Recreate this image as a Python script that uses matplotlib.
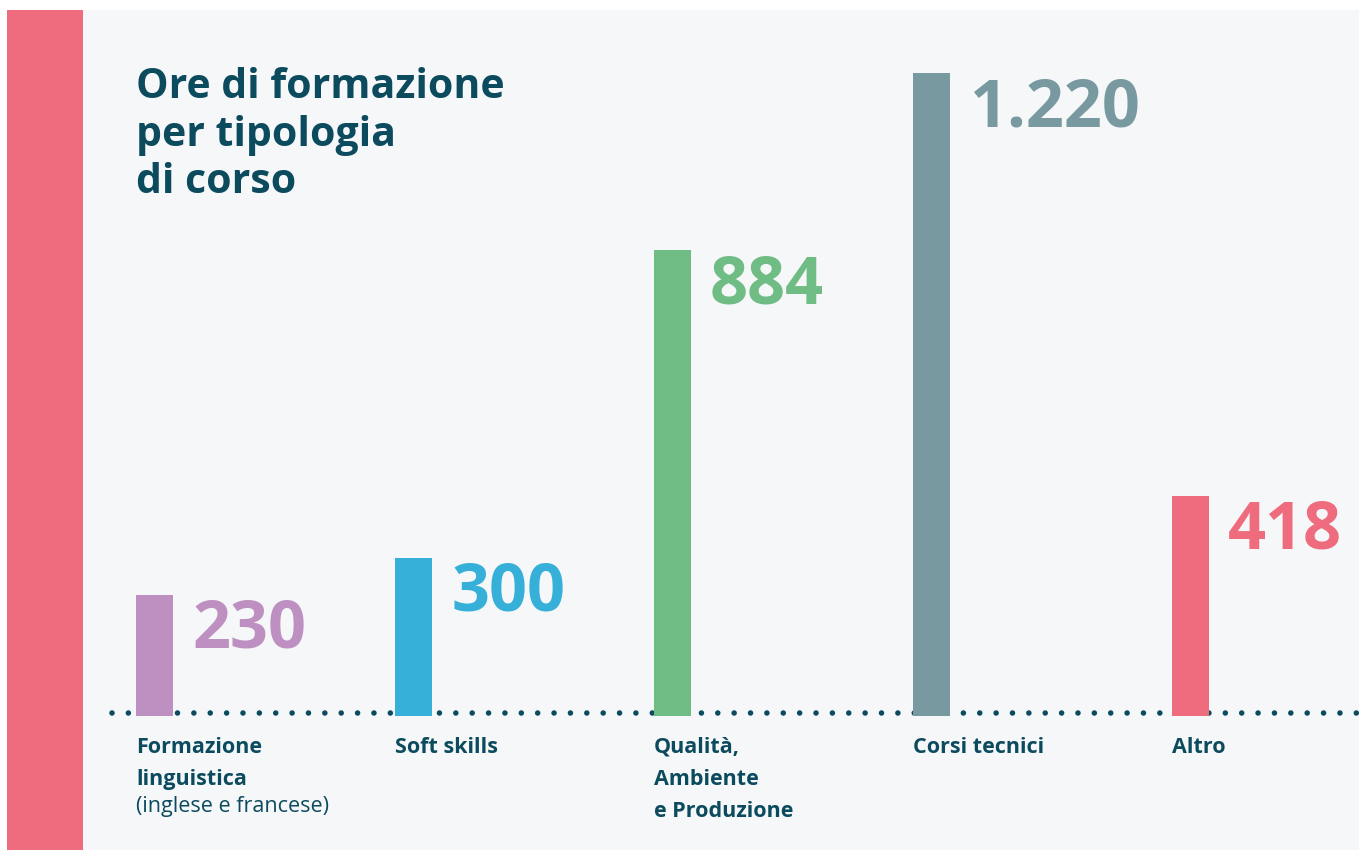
import matplotlib
matplotlib.use("Agg")
import matplotlib.pyplot as plt
from matplotlib.patches import Rectangle

# ore di formazione per tipologia di corso
categorie = [
    "Formazione\nlinguistica",
    "Soft skills",
    "Qualità,\nAmbiente\ne Produzione",
    "Corsi tecnici",
    "Altro",
]
note = ["(inglese e francese)", "", "", "", ""]
ore = [230, 300, 884, 1220, 418]
colori = ["#be90c1", "#36afd9", "#6fbd84", "#77999f", "#ef6c7e"]

TESTO = "#0c4a5e"
SFONDO = "#f5f7f9"
ROSA = "#ef6c7e"
FONT = "Open Sans"

W, H, DPI = 1359, 850, 100
fig = plt.figure(figsize=(W / DPI, H / DPI), dpi=DPI)
fig.patch.set_facecolor("white")

# fascia rosa a sinistra + pannello grigio chiaro
fig.patches.append(Rectangle((7 / W, 0), 76 / W, 840 / H, transform=fig.transFigure,
                             facecolor=ROSA, edgecolor="none", zorder=-2))
fig.patches.append(Rectangle((83 / W, 0), 1 - 83 / W, 840 / H, transform=fig.transFigure,
                             facecolor=SFONDO, edgecolor="none", zorder=-2))

ax = fig.add_axes([0, 0, 1, 1])
ax.set_facecolor("none")
ax.axis("off")

passo = 259          # px tra le barre
x0 = 154.5           # centro prima barra (px)
base = 134           # linea di base dal basso (px)
scala = 0.527        # px per ora
ax.set_xlim(-x0 / passo, (W - x0) / passo)
ax.set_ylim(-base / scala, (H - base) / scala)

larghezza = 37 / passo
xs = list(range(len(ore)))
ax.bar(xs, ore, width=larghezza, color=colori, zorder=3)

# linea di base a puntini, prosegue oltre il bordo destro
ax.hlines(3 / scala, (112 - x0) / passo, (W + 40 - x0) / passo, colors=TESTO,
          linewidth=4, linestyles=[(0, (0.001, 16.38 / 5.56))],
          capstyle="round", zorder=2)

for x, v, c in zip(xs, ore, colori):
    etichetta = f"{v:,}".replace(",", ".")
    ax.annotate(etichetta, xy=(x + larghezza / 2, v), xytext=(19 * 0.72, -53 * 0.72),
                textcoords="offset points", ha="left", va="baseline",
                fontsize=48, fontweight="bold", color=c, family=FONT, zorder=4)

# etichette delle categorie sotto la linea di base
for x, cat, nota in zip(xs, categorie, note):
    righe = cat.split("\n")
    for k, riga in enumerate(righe):
        ax.annotate(riga, xy=(x - larghezza / 2, 0), xytext=(0, -(37 + 32 * k) * 0.72),
                    textcoords="offset points", ha="left", va="baseline",
                    fontsize=15.5, fontweight="bold", color=TESTO, family=FONT)
    if nota:
        ax.annotate(nota, xy=(x - larghezza / 2, 0),
                    xytext=(0, -(37 + 32 * len(righe) - 5) * 0.72),
                    textcoords="offset points", ha="left", va="baseline",
                    fontsize=15.5, color=TESTO, family=FONT)

titolo = ["Ore di formazione", "per tipologia", "di corso"]
for k, riga in enumerate(titolo):
    fig.text(136 / W, 1 - (98 + 47.5 * k) / H, riga, ha="left", va="baseline",
             fontsize=29.5, fontweight="bold", color=TESTO, family=FONT)

fig.savefig("out.png", dpi=DPI, facecolor=fig.get_facecolor())
